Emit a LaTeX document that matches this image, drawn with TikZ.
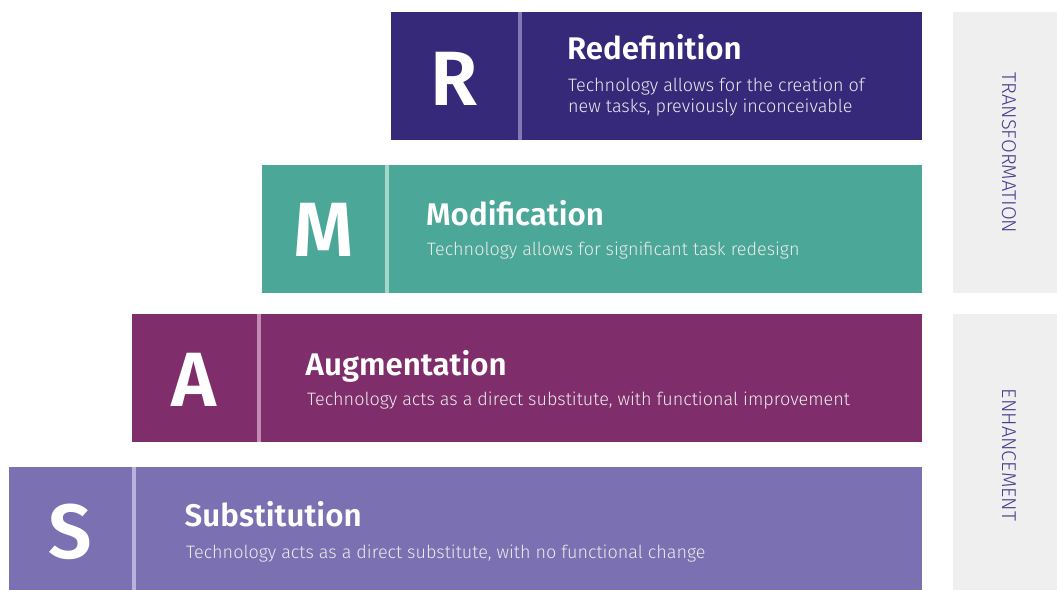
\documentclass[tikz,border=0pt]{standalone}
\usepackage{fontspec}
\setmainfont{Fira Sans}[UprightFont={* Light}, BoldFont={* SemiBold}]

\definecolor{redefcol}{HTML}{36297A}
\definecolor{redefdiv}{HTML}{8079B5}
\definecolor{modifcol}{HTML}{4BA797}
\definecolor{modifdiv}{HTML}{A5D6CC}
\definecolor{augmcol}{HTML}{7F2E6B}
\definecolor{augmdiv}{HTML}{C08CB6}
\definecolor{substcol}{HTML}{7A70B2}
\definecolor{substdiv}{HTML}{B8B2DC}
\definecolor{sidegray}{HTML}{EFEFEF}
\definecolor{sidetext}{HTML}{453E8C}

\begin{document}
\begin{tikzpicture}[x=1pt, y=-1pt,
    bigletter/.style={anchor=base, inner sep=0, text=white, font=\fontsize{77}{80}\selectfont\bfseries},
    title/.style={anchor=base west, inner sep=0, text=white, font=\fontsize{31.3}{36}\selectfont\bfseries},
    desc/.style={anchor=base west, inner sep=0, text=white!92!black, align=left, font=\fontsize{18}{20.6}\selectfont},
    sidelabel/.style={rotate=-90, inner sep=0, text=sidetext, font=\fontsize{20}{24}\selectfont}]

\useasboundingbox (0, 0) rectangle (1057, 590);

% side panels
\fill[sidegray] (953, 12) rectangle (1057, 293);
\fill[sidegray] (953, 314) rectangle (1057, 590);
\node[sidelabel] (transf) at (1009, 153) {TRANSFORMATION};
\node[sidelabel] (enhanc) at (1009, 455) {ENHANCEMENT};

% bars
\fill[redefcol] (391, 12) rectangle (922, 140);
\fill[redefdiv] (518, 12) rectangle (522, 140);
\fill[modifcol] (262, 165) rectangle (922, 293);
\fill[modifdiv] (385, 165) rectangle (389, 293);
\fill[augmcol] (132, 314) rectangle (922, 442);
\fill[augmdiv] (257, 314) rectangle (261, 442);
\fill[substcol] (9, 467) rectangle (922, 590);
\fill[substdiv] (132, 467) rectangle (136, 590);

% letters
\node[bigletter] (rletter) at (454.5, 105) {R};
\node[bigletter] (mletter) at (323.5, 256.5) {M};
\node[bigletter] (aletter) at (194.5, 406) {A};
\node[bigletter] (sletter) at (70.5, 558) {S};

% titles and descriptions
\node[title] (rtitle) at (567, 59.3) {Redefinition};
\node[desc] (rdesc) at (568, 112.3) {Technology allows for the creation of\\new tasks, previously inconceivable};
\node[title] (mtitle) at (426, 225) {Modification};
\node[desc] (mdesc) at (427, 255) {Technology allows for significant task redesign};
\node[title] (atitle) at (305.5, 375) {Augmentation};
\node[desc] (adesc) at (307, 405) {Technology acts as a direct substitute, with functional improvement};
\node[title] (stitle) at (184.5, 526.7) {Substitution};
\node[desc] (sdesc) at (186, 558.3) {Technology acts as a direct substitute, with no functional change};

\end{tikzpicture}
\end{document}
